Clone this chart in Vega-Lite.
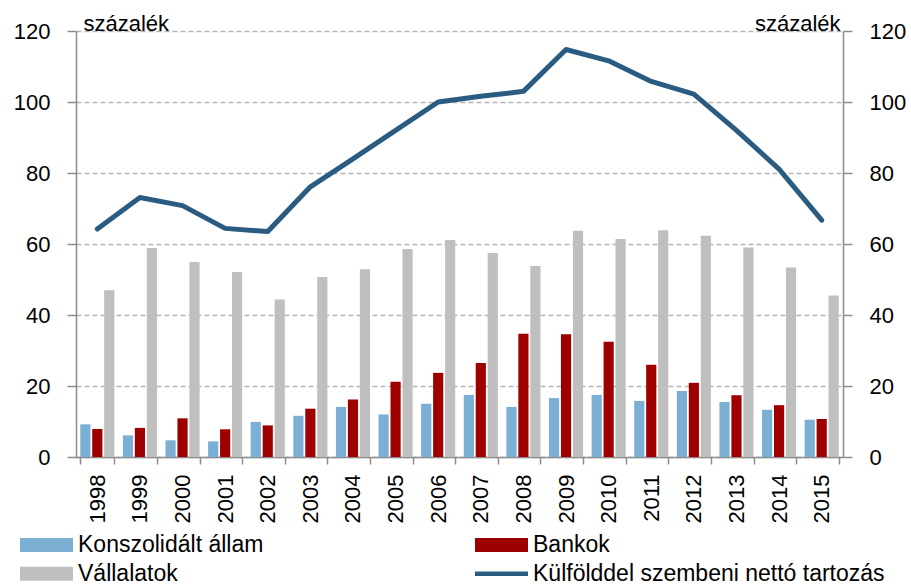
{
  "$schema": "https://vega.github.io/schema/vega-lite/v6.json",
  "width": 767,
  "height": 426,
  "autosize": {"type": "none"},
  "padding": {"left": 76, "top": 31, "right": 68, "bottom": 128},
  "background": "white",
  "config": {
    "font": "Liberation Sans",
    "view": {"stroke": null}
  },
  "datasets": {
    "bars": [
      {"year": "1998", "series": "Konszolidált állam", "value": 9.2},
      {"year": "1999", "series": "Konszolidált állam", "value": 6.1},
      {"year": "2000", "series": "Konszolidált állam", "value": 4.7},
      {"year": "2001", "series": "Konszolidált állam", "value": 4.4},
      {"year": "2002", "series": "Konszolidált állam", "value": 9.9},
      {"year": "2003", "series": "Konszolidált állam", "value": 11.6},
      {"year": "2004", "series": "Konszolidált állam", "value": 14.1},
      {"year": "2005", "series": "Konszolidált állam", "value": 12.0},
      {"year": "2006", "series": "Konszolidált állam", "value": 15.0},
      {"year": "2007", "series": "Konszolidált állam", "value": 17.5},
      {"year": "2008", "series": "Konszolidált állam", "value": 14.1},
      {"year": "2009", "series": "Konszolidált állam", "value": 16.6},
      {"year": "2010", "series": "Konszolidált állam", "value": 17.5},
      {"year": "2011", "series": "Konszolidált állam", "value": 15.8},
      {"year": "2012", "series": "Konszolidált állam", "value": 18.6},
      {"year": "2013", "series": "Konszolidált állam", "value": 15.5},
      {"year": "2014", "series": "Konszolidált állam", "value": 13.3},
      {"year": "2015", "series": "Konszolidált állam", "value": 10.5},
      {"year": "1998", "series": "Bankok", "value": 7.9},
      {"year": "1999", "series": "Bankok", "value": 8.2},
      {"year": "2000", "series": "Bankok", "value": 10.9},
      {"year": "2001", "series": "Bankok", "value": 7.8},
      {"year": "2002", "series": "Bankok", "value": 8.9},
      {"year": "2003", "series": "Bankok", "value": 13.6},
      {"year": "2004", "series": "Bankok", "value": 16.2},
      {"year": "2005", "series": "Bankok", "value": 21.2},
      {"year": "2006", "series": "Bankok", "value": 23.7},
      {"year": "2007", "series": "Bankok", "value": 26.5},
      {"year": "2008", "series": "Bankok", "value": 34.7},
      {"year": "2009", "series": "Bankok", "value": 34.6},
      {"year": "2010", "series": "Bankok", "value": 32.5},
      {"year": "2011", "series": "Bankok", "value": 26.0},
      {"year": "2012", "series": "Bankok", "value": 20.9},
      {"year": "2013", "series": "Bankok", "value": 17.4},
      {"year": "2014", "series": "Bankok", "value": 14.6},
      {"year": "2015", "series": "Bankok", "value": 10.7},
      {"year": "1998", "series": "Vállalatok", "value": 47.0},
      {"year": "1999", "series": "Vállalatok", "value": 58.9},
      {"year": "2000", "series": "Vállalatok", "value": 54.9},
      {"year": "2001", "series": "Vállalatok", "value": 52.1},
      {"year": "2002", "series": "Vállalatok", "value": 44.4},
      {"year": "2003", "series": "Vállalatok", "value": 50.7},
      {"year": "2004", "series": "Vállalatok", "value": 52.9},
      {"year": "2005", "series": "Vállalatok", "value": 58.6},
      {"year": "2006", "series": "Vállalatok", "value": 61.1},
      {"year": "2007", "series": "Vállalatok", "value": 57.5},
      {"year": "2008", "series": "Vállalatok", "value": 53.8},
      {"year": "2009", "series": "Vállalatok", "value": 63.7},
      {"year": "2010", "series": "Vállalatok", "value": 61.4},
      {"year": "2011", "series": "Vállalatok", "value": 63.9},
      {"year": "2012", "series": "Vállalatok", "value": 62.3},
      {"year": "2013", "series": "Vállalatok", "value": 59.0},
      {"year": "2014", "series": "Vállalatok", "value": 53.4},
      {"year": "2015", "series": "Vállalatok", "value": 45.5}
    ],
    "line": [
      {"year": "1998", "series": "Külfölddel szembeni nettó tartozás", "value": 64.2},
      {"year": "1999", "series": "Külfölddel szembeni nettó tartozás", "value": 73.1},
      {"year": "2000", "series": "Külfölddel szembeni nettó tartozás", "value": 70.8},
      {"year": "2001", "series": "Külfölddel szembeni nettó tartozás", "value": 64.4},
      {"year": "2002", "series": "Külfölddel szembeni nettó tartozás", "value": 63.5},
      {"year": "2003", "series": "Külfölddel szembeni nettó tartozás", "value": 76.1},
      {"year": "2004", "series": "Külfölddel szembeni nettó tartozás", "value": 84.0},
      {"year": "2005", "series": "Külfölddel szembeni nettó tartozás", "value": 92.0},
      {"year": "2006", "series": "Külfölddel szembeni nettó tartozás", "value": 100.0},
      {"year": "2007", "series": "Külfölddel szembeni nettó tartozás", "value": 101.6},
      {"year": "2008", "series": "Külfölddel szembeni nettó tartozás", "value": 103.0},
      {"year": "2009", "series": "Külfölddel szembeni nettó tartozás", "value": 114.8},
      {"year": "2010", "series": "Külfölddel szembeni nettó tartozás", "value": 111.6},
      {"year": "2011", "series": "Külfölddel szembeni nettó tartozás", "value": 105.8},
      {"year": "2012", "series": "Külfölddel szembeni nettó tartozás", "value": 102.2},
      {"year": "2013", "series": "Külfölddel szembeni nettó tartozás", "value": 92.0},
      {"year": "2014", "series": "Külfölddel szembeni nettó tartozás", "value": 81.1},
      {"year": "2015", "series": "Külfölddel szembeni nettó tartozás", "value": 66.7}
    ]
  },
  "layer": [
    {
      "data": {"name": "bars"},
      "mark": {"type": "bar"},
      "encoding": {
        "x": {
          "field": "year",
          "type": "ordinal",
          "scale": {"paddingInner": 0.2, "paddingOuter": 0.1},
          "axis": {
            "title": null,
            "labelAngle": 270,
            "labelAlign": "right",
            "labelBaseline": "middle",
            "labelFontSize": 22,
            "labelColor": "black",
            "labelPadding": 10,
            "tickBand": "extent",
            "tickSize": 7,
            "tickColor": "#8c8c8c",
            "tickWidth": 1.5,
            "domainColor": "#8c8c8c",
            "domainWidth": 1.5
          }
        },
        "xOffset": {
          "field": "series",
          "type": "nominal",
          "sort": ["Konszolidált állam", "Bankok", "Vállalatok"],
          "scale": {"paddingInner": 0.15, "paddingOuter": 0}
        },
        "y": {
          "field": "value",
          "type": "quantitative",
          "scale": {"domain": [0, 120], "nice": false},
          "axis": {
            "orient": "left",
            "values": [0, 20, 40, 60, 80, 100, 120],
            "grid": true,
            "gridDash": [5, 3],
            "gridColor": "#b5b5b5",
            "gridWidth": 1.5,
            "domainColor": "#8c8c8c",
            "domainWidth": 1.5,
            "tickColor": "#8c8c8c",
            "tickWidth": 1.5,
            "tickSize": 9,
            "labelPadding": 17,
            "labelFontSize": 22,
            "labelColor": "black",
            "title": "százalék",
            "titleAngle": 0,
            "titleX": 7,
            "titleY": -1,
            "titleAlign": "left",
            "titleBaseline": "alphabetic",
            "titleFontSize": 22,
            "titleFontWeight": "normal",
            "titleColor": "black"
          }
        },
        "color": {
          "field": "series",
          "type": "nominal",
          "scale": {
            "domain": ["Konszolidált állam", "Bankok", "Vállalatok", "Külfölddel szembeni nettó tartozás"],
            "range": ["#7bafd4", "#9e0000", "#bfbfbf", "#2a5b80"]
          },
          "legend": {
            "orient": "none",
            "direction": "horizontal",
            "legendX": -56,
            "legendY": 502,
            "columns": 2,
            "title": null,
            "padding": 0,
            "symbolSize": 2809,
            "symbolType": "M-1,-0.264H1V0.264H-1Z",
            "clipHeight": 24,
            "labelFontSize": 23,
            "labelColor": "black",
            "labelOffset": 5,
            "labelLimit": 600,
            "columnPadding": 211,
            "rowPadding": 4.7,
            "encode": {
              "symbols": {
                "update": {
                  "shape": {"signal": "datum.value === 'Külfölddel szembeni nettó tartozás' ? 'M-1,-0.085H1V0.085H-1Z' : 'M-1,-0.264H1V0.264H-1Z'"},
                  "fill": {"scale": "color", "field": "value"},
                  "stroke": {"value": "transparent"},
                  "strokeWidth": {"value": 0},
                  "opacity": {"value": 1}
                }
              }
            }
          }
        }
      }
    },
    {
      "data": {"name": "line"},
      "mark": {"type": "line", "strokeWidth": 5, "strokeJoin": "round", "strokeCap": "round"},
      "encoding": {
        "x": {"field": "year", "type": "ordinal"},
        "y": {
          "field": "value",
          "type": "quantitative",
          "scale": {"domain": [0, 120], "nice": false},
          "axis": {
            "orient": "right",
            "values": [0, 20, 40, 60, 80, 100, 120],
            "grid": false,
            "domainColor": "#8c8c8c",
            "domainWidth": 1.5,
            "tickColor": "#8c8c8c",
            "tickWidth": 1.5,
            "tickSize": 9,
            "labelPadding": 17,
            "labelFontSize": 22,
            "labelColor": "black",
            "title": "százalék",
            "titleAngle": 0,
            "titleX": -3,
            "titleY": -1,
            "titleAlign": "right",
            "titleBaseline": "alphabetic",
            "titleFontSize": 22,
            "titleFontWeight": "normal",
            "titleColor": "black"
          }
        },
        "color": {"field": "series", "type": "nominal"}
      }
    }
  ],
  "resolve": {"scale": {"y": "independent"}}
}
